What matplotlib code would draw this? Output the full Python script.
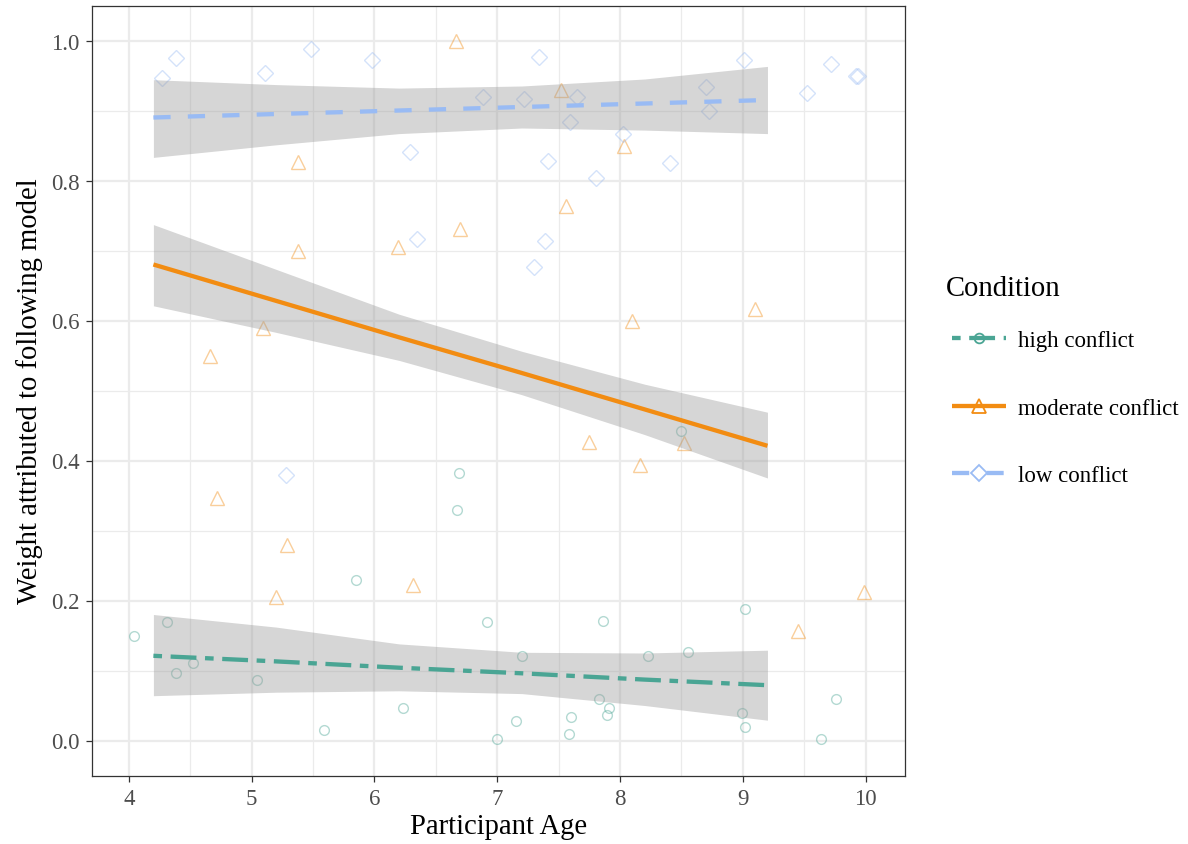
import numpy as np
import matplotlib.pyplot as plt
from matplotlib.lines import Line2D

plt.rcParams.update({
    'font.family': ['Liberation Serif', 'DejaVu Serif'],
    'figure.dpi': 100,
})

# --- dados ---
HIGH_AGE = [8.50, 6.69, 6.67, 5.85, 4.04, 4.31, 6.92, 4.38, 4.52, 5.04, 6.23, 5.59, 7.00,
            9.02, 7.86, 7.20, 8.23, 8.55, 7.83, 7.91, 7.89, 7.60, 7.15, 7.58, 8.99, 9.02,
            9.76, 9.64]
HIGH_W = [0.442, 0.382, 0.329, 0.230, 0.150, 0.169, 0.170, 0.097, 0.111, 0.086, 0.046, 0.015,
          0.002, 0.188, 0.171, 0.121, 0.121, 0.126, 0.060, 0.046, 0.036, 0.033, 0.028, 0.010,
          0.040, 0.019, 0.060, 0.002]

MOD_AGE = [6.66, 5.38, 5.38, 6.19, 6.70, 7.52, 8.03, 7.56, 8.10, 9.10, 8.52, 7.75, 8.16,
           5.09, 4.66, 4.72, 5.29, 6.31, 5.20, 9.99, 9.45]
MOD_W = [0.999, 0.827, 0.699, 0.705, 0.731, 0.930, 0.849, 0.763, 0.599, 0.616, 0.425, 0.426,
         0.394, 0.589, 0.550, 0.347, 0.279, 0.222, 0.205, 0.212, 0.157]

LOW_AGE = [4.27, 4.38, 5.11, 5.48, 5.98, 6.88, 6.29, 6.35, 7.34, 7.22, 7.65, 7.59, 8.02,
           8.70, 8.72, 9.01, 9.72, 9.52, 9.92, 9.94, 7.41, 8.41, 7.80, 7.39, 7.30, 5.28]
LOW_W = [0.946, 0.975, 0.954, 0.988, 0.972, 0.920, 0.841, 0.717, 0.977, 0.917, 0.919, 0.883,
         0.867, 0.934, 0.900, 0.972, 0.967, 0.925, 0.949, 0.950, 0.828, 0.825, 0.804, 0.714,
         0.676, 0.379]

FIT_AGE = [4.2, 5.2, 6.2, 7.2, 8.2, 9.2]
HIGH_FIT = [0.121, 0.113, 0.104, 0.096, 0.087, 0.079]
HIGH_LO  = [0.064, 0.069, 0.071, 0.067, 0.050, 0.029]
HIGH_HI  = [0.180, 0.162, 0.138, 0.126, 0.125, 0.129]
MOD_FIT  = [0.680, 0.628, 0.576, 0.525, 0.473, 0.421]
MOD_LO   = [0.621, 0.583, 0.543, 0.494, 0.437, 0.375]
MOD_HI   = [0.737, 0.673, 0.609, 0.556, 0.509, 0.469]
LOW_FIT  = [0.890, 0.895, 0.900, 0.905, 0.910, 0.915]
LOW_LO   = [0.833, 0.851, 0.867, 0.875, 0.872, 0.867]
LOW_HI   = [0.944, 0.937, 0.932, 0.935, 0.945, 0.963]

LABELS = ["high conflict", "moderate conflict", "low conflict"]

# --- estilo ---
COLS    = ['#4AA594', '#F28C12', '#99BBF4']
MARKERS = ['o', '^', 'D']
MSIZES  = [7.0, 9.5, 7.8]
DASHES  = [(2, 2, 6, 2), (None, None), (4, 4)]
LW = 3.1
FS_TITLE = 20.6
FS_TEXT = 16.5

fig = plt.figure(figsize=(11.88, 8.45), dpi=100)
ax = fig.add_axes([92 / 1188, 1 - 776.5 / 845, 813 / 1188, 770 / 845])

groups = [
    (HIGH_AGE, HIGH_W, HIGH_FIT, HIGH_LO, HIGH_HI),
    (MOD_AGE, MOD_W, MOD_FIT, MOD_LO, MOD_HI),
    (LOW_AGE, LOW_W, LOW_FIT, LOW_LO, LOW_HI),
]

for i, (age, w, fit, lo, hi) in enumerate(groups):
    ax.plot(age, w, linestyle='none', marker=MARKERS[i], ms=MSIZES[i],
            mfc='none', mec=COLS[i], mew=1.0, alpha=0.42, zorder=2)

for i, (age, w, fit, lo, hi) in enumerate(groups):
    ax.fill_between(FIT_AGE, lo, hi, color='#999999', alpha=0.4, lw=0, zorder=3)
    line, = ax.plot(FIT_AGE, fit, color=COLS[i], lw=LW, zorder=4,
                    solid_capstyle='butt', dash_capstyle='butt')
    if DASHES[i][0] is not None:
        line.set_dashes(DASHES[i])

ax.set_xlim(3.70, 10.32)
ax.set_ylim(-0.05, 1.05)
ax.set_xticks([4, 5, 6, 7, 8, 9, 10])
ax.set_xticks(np.arange(4.5, 10.5, 1.0), minor=True)
ax.set_yticks([0.0, 0.2, 0.4, 0.6, 0.8, 1.0])
ax.set_yticks([0.1, 0.3, 0.5, 0.7, 0.9], minor=True)
ax.set_yticklabels(['0.0', '0.2', '0.4', '0.6', '0.8', '1.0'])

ax.grid(which='major', color='#EBEBEB', lw=1.6, zorder=0)
ax.grid(which='minor', color='#EBEBEB', lw=0.9, zorder=0)
ax.set_axisbelow(True)
for sp in ax.spines.values():
    sp.set_color('#333333')
    sp.set_linewidth(0.9)
ax.tick_params(which='major', length=4.2, width=0.9, color='#333333',
               labelsize=FS_TEXT, labelcolor='#4D4D4D', pad=4.8)
ax.tick_params(which='minor', length=0)

ax.set_xlabel('Participant Age', fontsize=FS_TITLE, labelpad=3)
ax.set_ylabel('Weight attributed to following model', fontsize=FS_TITLE, labelpad=6)

handles = []
for i in range(3):
    h = Line2D([], [], color=COLS[i], lw=LW, marker=MARKERS[i], ms=MSIZES[i],
               mfc='none', mec=COLS[i], mew=1.3, solid_capstyle='butt',
               dash_capstyle='butt')
    if DASHES[i][0] is not None:
        h.set_dashes(DASHES[i])
    handles.append(h)

fig.text(946 / 1188, 1 - 289 / 845, 'Condition', fontsize=FS_TITLE, ha='left', va='center')
fig.legend(handles, LABELS, loc='center left', bbox_to_anchor=(952 / 1188, 1 - 409 / 845),
           frameon=False, fontsize=FS_TEXT, handlelength=2.36, handletextpad=0.5,
           labelspacing=2.03, borderpad=0, borderaxespad=0, numpoints=1)

fig.savefig('out.png', dpi=100)
